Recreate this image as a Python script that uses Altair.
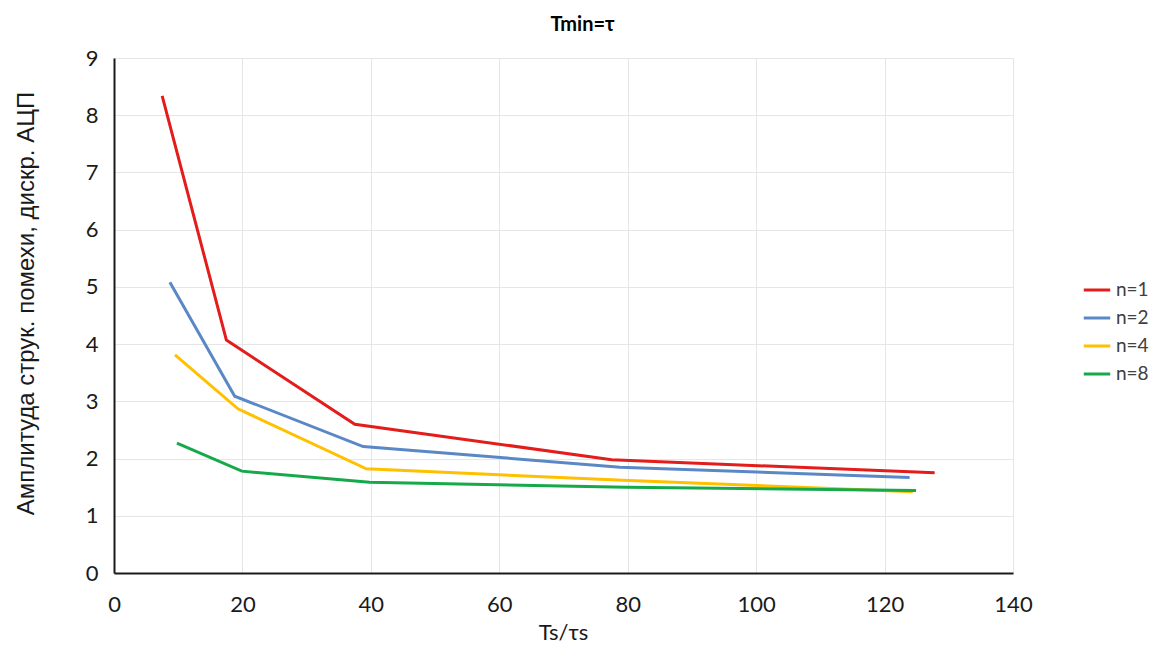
import altair as alt
import pandas as pd

series = ["n=1", "n=2", "n=4", "n=8"]
x_n1 = [7.5, 17.5, 37.5, 77.5, 127.8]
y_n1 = [8.34, 4.07, 2.6, 1.98, 1.75]
x_n2 = [8.7, 18.8, 38.8, 78.8, 123.9]
y_n2 = [5.08, 3.09, 2.21, 1.85, 1.67]
x_n4 = [9.5, 19.3, 39.3, 79.3, 124.4]
y_n4 = [3.81, 2.87, 1.82, 1.62, 1.42]
x_n8 = [9.8, 19.9, 39.8, 79.8, 124.9]
y_n8 = [2.27, 1.78, 1.585, 1.5, 1.44]
colors = ["#e31c1c", "#5a88c6", "#ffc000", "#16a94a"]

rows = []
for name, xs, ys in zip(series, [x_n1, x_n2, x_n4, x_n8], [y_n1, y_n2, y_n4, y_n8]):
    for i, (xv, yv) in enumerate(zip(xs, ys)):
        rows.append({"s": name, "x": xv, "y": yv, "o": i})
df = pd.DataFrame(rows)

FONT = "Lato"

chart = alt.Chart(df).mark_line(strokeWidth=3).encode(
    x=alt.X("x:Q", scale=alt.Scale(domain=[0, 140], nice=False),
            axis=alt.Axis(values=list(range(0, 141, 20)), title="Ts/τs",
                          labelPadding=21, labelFlush=False,
                          titleX=449, titleY=49, titleBaseline="top")),
    y=alt.Y("y:Q", scale=alt.Scale(domain=[0, 9], nice=False),
            axis=alt.Axis(values=list(range(0, 10)), title="Амплитуда струк. помехи, дискр. АЦП",
                          labelPadding=16, labelFlush=False,
                          titleFont="Liberation Sans", titleFontSize=24,
                          titleX=-76, titleY=245)),
    color=alt.Color("s:N", scale=alt.Scale(domain=series, range=colors),
                    legend=alt.Legend(title=None, orient="none", legendX=968, legendY=217,
                                      symbolType="stroke", symbolStrokeWidth=3, symbolSize=700,
                                      labelFontSize=19, labelFont=FONT, rowPadding=3,
                                      labelColor="#404040")),
    order="o:Q",
).properties(
    width=899, height=515,
    title=alt.TitleParams("Tmin=τ", fontSize=20, fontWeight="bold", font=FONT,
                          anchor="middle", offset=12, dx=19, color="#000000"),
    autosize=alt.AutoSizeParams(type="none"),
    padding={"left": 114, "top": 58, "right": 152, "bottom": 78},
).configure_view(stroke=None).configure_axis(
    grid=True, gridColor="#e6e6e6", gridWidth=1,
    domainColor="#1a1a1a", domainWidth=2, ticks=False,
    labelFont=FONT, labelFontSize=22, labelColor="#1a1a1a",
    titleFont=FONT, titleFontSize=22, titleFontWeight="normal", titleColor="#1a1a1a",
)

chart.save("out.html", embed_options={"renderer": "svg", "actions": False})
